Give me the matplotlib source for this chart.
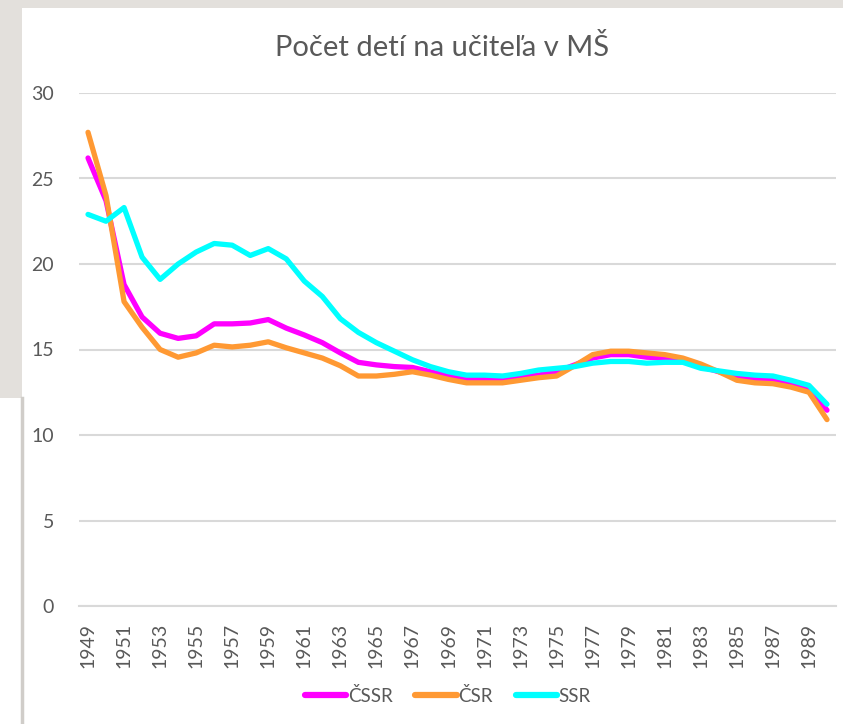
import matplotlib
matplotlib.use("Agg")
import matplotlib.pyplot as plt
from matplotlib.patches import Rectangle
from matplotlib.lines import Line2D

years = list(range(1949, 1991))
cssr = [26.2, 23.7, 18.8, 16.9, 15.95, 15.65, 15.8, 16.5, 16.5, 16.55, 16.75, 16.25,
        15.85, 15.4, 14.8, 14.25, 14.1, 14.0, 13.95, 13.7, 13.45, 13.3, 13.25, 13.25,
        13.4, 13.5, 13.7, 14.1, 14.5, 14.7, 14.7, 14.55, 14.5, 14.4, 14.0, 13.7,
        13.4, 13.25, 13.2, 13.0, 12.75, 11.45]
csr = [27.7, 24.0, 17.8, 16.3, 15.0, 14.55, 14.8, 15.25, 15.15, 15.25, 15.45, 15.1,
       14.8, 14.5, 14.05, 13.45, 13.45, 13.55, 13.7, 13.5, 13.25, 13.05, 13.05, 13.05,
       13.2, 13.35, 13.45, 14.05, 14.7, 14.9, 14.9, 14.8, 14.7, 14.5, 14.15, 13.7,
       13.2, 13.05, 13.0, 12.8, 12.5, 10.9]
ssr = [22.9, 22.5, 23.3, 20.4, 19.1, 20.0, 20.7, 21.2, 21.1, 20.5, 20.9, 20.3,
       19.0, 18.1, 16.8, 16.0, 15.4, 14.9, 14.4, 14.0, 13.7, 13.5, 13.5, 13.45,
       13.6, 13.8, 13.9, 14.0, 14.2, 14.3, 14.3, 14.2, 14.25, 14.25, 13.9, 13.75,
       13.6, 13.5, 13.45, 13.2, 12.9, 11.8]
series_names = ["ČSSR", "ČSR", "SSR"]
colors = ["#FF00FF", "#FF9933", "#00FFFF"]
yticks = [0, 5, 10, 15, 20, 25, 30]

plt.rcParams['font.family'] = ['Lato', 'DejaVu Sans']
W, H = 843, 724
fig = plt.figure(figsize=(W / 100, H / 100), dpi=100)
fig.patch.set_facecolor("white")

bg = "#E3E0DC"
fig.add_artist(Rectangle((0, 1 - 8 / H), 1, 8 / H, transform=fig.transFigure,
                         facecolor=bg, edgecolor="none", zorder=0))
fig.add_artist(Rectangle((0, 1 - 398 / H), 22 / W, 398 / H, transform=fig.transFigure,
                         facecolor=bg, edgecolor="none", zorder=0))
fig.add_artist(Line2D([22 / W, 22 / W], [0, 1 - 398 / H], transform=fig.transFigure,
                      color="#D0CDC9", lw=2.5, zorder=0))

ax = fig.add_axes([79 / W, 1 - 606 / H, (836 - 79) / W, (606 - 93) / H])
ax.set_facecolor("white")
x = list(range(len(years)))
data = [cssr, csr, ssr]
for vals, name, c in zip(data, series_names, colors):
    ax.plot(x, vals, color=c, lw=3.8, label=name, solid_capstyle="round",
            solid_joinstyle="round")

ax.set_xlim(-0.5, len(years) - 0.5)
ax.set_ylim(0, 30)
ax.set_yticks(yticks)
ax.set_yticklabels([str(v) for v in yticks])
ax.yaxis.grid(True, color="#D9D9D9", lw=1.5)
ax.set_axisbelow(True)
ax.set_xticks(x[::2])
ax.set_xticklabels([str(y) for y in years[::2]], rotation=90)
for s in ax.spines.values():
    s.set_visible(False)
ax.spines['bottom'].set_visible(True)
ax.spines['bottom'].set_color("#D9D9D9")
ax.spines['bottom'].set_linewidth(1.5)
ax.tick_params(axis='both', length=0, colors="#595959", labelsize=14)
ax.tick_params(axis='y', pad=18)
ax.tick_params(axis='x', pad=12)

fig.text(442 / W, 1 - 47 / H, "Počet detí na učiteľa v MŠ", ha="center", va="center",
         fontsize=21, color="#595959")

handles = [Line2D([0], [0], color=c, lw=4.5, solid_capstyle="round") for c in colors]
fig.legend(handles, series_names, loc="center", bbox_to_anchor=(448 / W, 1 - 696 / H),
           ncol=3, frameon=False, fontsize=13.5, labelcolor="#595959",
           handlelength=2.2, handletextpad=0.1, columnspacing=1.2)

fig.savefig("out.png", dpi=100)
